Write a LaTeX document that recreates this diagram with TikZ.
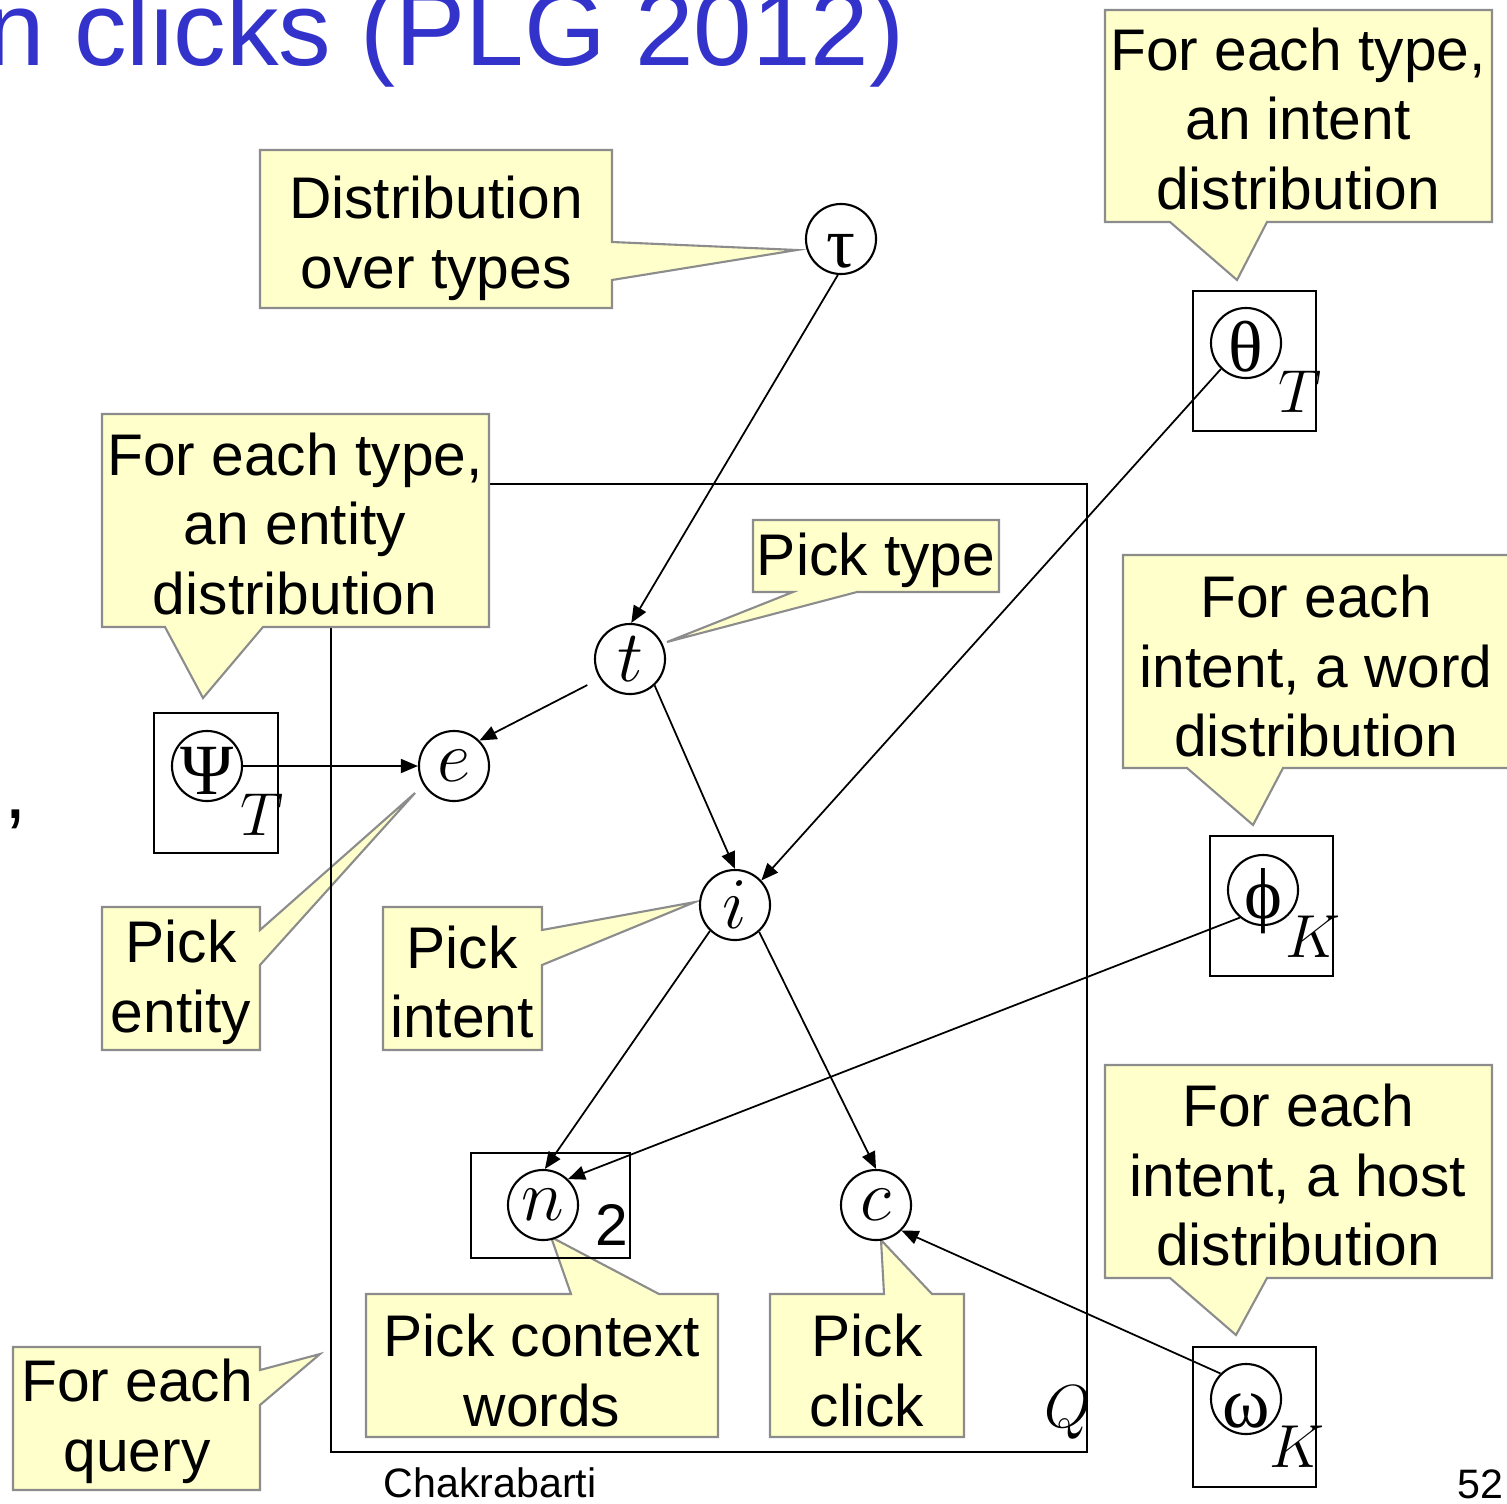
\documentclass[tikz,border=0pt]{standalone}
\usepackage{fontspec}
\setmainfont{Liberation Sans}
\newfontfamily\greekserif{Liberation Serif}
\usetikzlibrary{arrows.meta}

\definecolor{callfill}{HTML}{FFFFCC}
\definecolor{callline}{HTML}{8C8C8C}
\definecolor{titleblue}{HTML}{3333CC}

\newcommand\callfont{\fontsize{16.7}{19.9}\selectfont}
\newcommand\greekfont{\greekserif\fontsize{20.5}{24}\selectfont}
\newcommand\varfont{\fontsize{20.74}{24}\selectfont}
\newcommand\platefont{\fontsize{17.28}{20}\selectfont}
% Greek symbols sit on a baseline a fixed distance below the circle centre
\newcommand\greeksym[1]{\raisebox{-0.28cm}[0pt][0pt]{#1}}

\tikzset{
  callout/.style={fill=callfill, draw=callline, line width=0.6pt, line join=miter},
  calltext/.style={font=\callfont, align=center, inner sep=0pt, text=black},
  var/.style={circle, draw, line width=0.6pt, minimum size=0.7cm, inner sep=0pt, fill=white},
  plate/.style={draw, line width=0.6pt},
  platelabel/.style={inner sep=0pt, font=\platefont},
  link/.style={line width=0.5pt, -{Triangle[length=0.17cm,width=0.14cm]}},
}

\begin{document}
\begin{tikzpicture}[x=0.01cm, y=-0.01cm]
\useasboundingbox (0,0) rectangle (1507,1503);
\clip (0,0) rectangle (1507,1503);

% slide title and stray punctuation
\node[anchor=base west, inner sep=0pt, text=titleblue, font=\fontsize{29.9}{34}\selectfont] (title) at (-14,66) {n clicks (PLG 2012)};
\node[anchor=base west, inner sep=0pt, font=\fontsize{23}{26}\selectfont] (comma) at (4,818) {,};

% footer
\node[anchor=base west, inner sep=0pt, font=\fontsize{11.7}{14}\selectfont] (author) at (383,1497) {Chakrabarti};
\node[anchor=base east, inner sep=0pt, font=\fontsize{11.7}{14}\selectfont] (pageno) at (1504,1498) {52};

% callout that lies under the query plate
\path[callout] (102,907) -- (260,907) -- (260,930) -- (415,793) -- (260,965) -- (260,1050) -- (102,1050) -- cycle;
\node[calltext] (cpe) at (181,982) {Pick\\entity};

% query plate
\draw[plate] (331,484) rectangle (1087,1452);
\node[platelabel] (qlab) at (1068,1413) {$Q$};

% remaining callouts
\path[callout] (260,150) -- (612,150) -- (612,242) -- (797,250) -- (612,280) -- (612,308) -- (260,308) -- cycle;
\node[calltext] (cdist) at (436,238) {Distribution\\over types};

\path[callout] (1105,10) -- (1492,10) -- (1492,222) -- (1267,222) -- (1237,280) -- (1170,222) -- (1105,222) -- cycle;
\node[calltext] (cintent) at (1298,119) {For each type,\\an intent\\distribution};

\path[callout] (102,414) -- (489,414) -- (489,627) -- (263,627) -- (203,698) -- (165,627) -- (102,627) -- cycle;
\node[calltext] (centity) at (295,524) {For each type,\\an entity\\distribution};

\path[callout] (753,520) -- (999,520) -- (999,592) -- (857,592) -- (667,642) -- (793,592) -- (753,592) -- cycle;
\node[calltext] (cpt) at (876,560) {Pick type};

\path[callout] (1123,555) -- (1510,555) -- (1510,768) -- (1283,768) -- (1253,825) -- (1187,768) -- (1123,768) -- cycle;
\node[calltext] (cword) at (1316,666) {For each\\intent, a word\\distribution};

\path[callout] (383,907) -- (542,907) -- (542,930) -- (695,902) -- (542,965) -- (542,1050) -- (383,1050) -- cycle;
\node[calltext] (cpi) at (462,982) {Pick\\intent};

\path[callout] (366,1294) -- (571,1294) -- (551,1237) -- (659,1294) -- (718,1294) -- (718,1437) -- (366,1437) -- cycle;
\node[calltext] (cpw) at (542,1370) {Pick context\\words};

\path[callout] (770,1294) -- (884,1294) -- (881,1240) -- (932,1294) -- (964,1294) -- (964,1437) -- (770,1437) -- cycle;
\node[calltext] (cpc) at (867,1370) {Pick\\click};

\path[callout] (1105,1065) -- (1492,1065) -- (1492,1278) -- (1267,1278) -- (1236,1335) -- (1170,1278) -- (1105,1278) -- cycle;
\node[calltext] (chost) at (1298,1175) {For each\\intent, a host\\distribution};

\path[callout] (13,1347) -- (260,1347) -- (260,1370) -- (320,1354) -- (260,1405) -- (260,1490) -- (13,1490) -- cycle;
\node[calltext] (cquery) at (137,1421) {For each\\query};

% small plates
\draw[plate] (1193,291) rectangle (1316,431);
\draw[plate] (154,713) rectangle (278,853);
\draw[plate] (1210,836) rectangle (1333,976);
\draw[plate] (471,1153) rectangle (630,1258);
\draw[plate] (1193,1347) rectangle (1316,1487);

% random variables
\node[var, font=\greekfont] (tau)   at (841,239)  {\greeksym{τ}};
\node[var, font=\greekfont] (theta) at (1246,343) {\greeksym{θ}};
\node[var, font=\varfont]   (t)     at (630,659)  {$t$};
\node[var, font=\greekfont] (psi)   at (207,766)  {\greeksym{Ψ}};
\node[var, font=\varfont]   (e)     at (454,766)  {$e$};
\node[var, font=\varfont]   (i)     at (735,905)  {$i$};
\node[var, font=\greekfont] (phi)   at (1263,890) {\greeksym{ϕ}};
\node[var, font=\varfont]   (n)     at (543,1205) {$n$};
\node[var, font=\varfont]   (c)     at (876,1205) {$c$};
\node[var, font=\greekfont] (omega) at (1246,1399) {\greeksym{ω}};

% plate counts
\node[platelabel] (tlab1) at (1300,392)  {$T$};
\node[platelabel] (tlab2) at (262,815)   {$T$};
\node[platelabel] (klab1) at (1313,937)  {$K$};
\node[platelabel] (klab2) at (1297,1447) {$K$};
\node[inner sep=0pt, font=\callfont] (nlab) at (612,1225) {2};

% dependencies
\draw[link] (tau.-95) -- (t.88);
\draw[link, shorten <=0.14cm] (t.213) -- (e.45);
\draw[link] (psi) -- (e);
\draw[link] (t.-47) -- (i.90);
\draw[link] (theta.226) -- (i.43);
\draw[link] (i.226) -- (n.87);
\draw[link] (i.-48) -- (c.90);
\draw[link] (phi.230) -- (n.46);
\draw[link] (omega.135) -- (c.-45);
\end{tikzpicture}
\end{document}
